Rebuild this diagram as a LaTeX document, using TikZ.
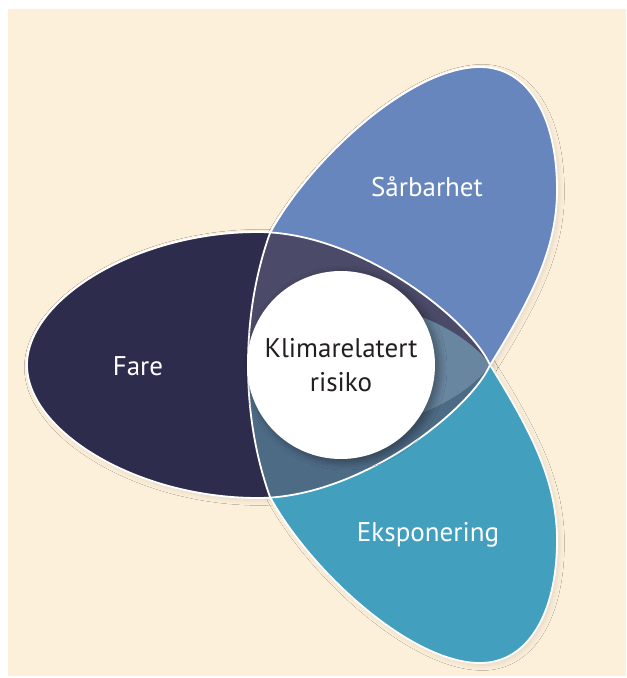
\documentclass[tikz,border=0pt]{standalone}
\usepackage{fontspec}
\setmainfont{PT Sans}
\usetikzlibrary{shadows.blur}
\definecolor{bg}{RGB}{253,240,219}
\definecolor{fare}{RGB}{46,44,76}
\definecolor{sarb}{RGB}{103,134,189}
\definecolor{eksp}{RGB}{66,159,190}
\definecolor{ovA}{RGB}{75,74,104}
\definecolor{ovB}{RGB}{105,134,160}
\definecolor{ovC}{RGB}{78,107,134}
\definecolor{ink}{RGB}{35,31,32}
\tikzset{
  leaf/.style={draw=white,line width=0.9pt},
  soft/.style={blur shadow={shadow xshift=1.2pt,shadow yshift=-1.2pt,shadow blur radius=2.5pt,shadow blur steps=10,shadow opacity=11}},
  lbl/.style={text=white,font=\fontsize{13.5}{16}\selectfont},
  core/.style={circle,fill=white,minimum size=94pt,inner sep=0pt,align=center,text=ink,font=\fontsize{13.5}{17}\selectfont}
}
\begin{document}
\begin{tikzpicture}[x=0.5pt,y=-0.5pt]
\def\fareshape{(490,365) .. controls (470,320) and (360,232) .. (258,232) .. controls (135,232) and (27,300) .. (27,365) .. controls (27,430) and (135,498) .. (258,498) .. controls (360,498) and (470,410) .. (490,365) -- cycle}
\def\sarbshape{(492,362) .. controls (530,300) and (557,250) .. (557,190) .. controls (557,115) and (527,67) .. (480,67) .. controls (410,67) and (310,160) .. (270,233) .. controls (255,275) and (248,320) .. (248,365) .. controls (248,410) and (290,430) .. (350,428) .. controls (420,425) and (475,390) .. (492,362) -- cycle}
\def\ekspshape{(492,368) .. controls (530,430) and (557,480) .. (557,540) .. controls (557,615) and (527,663) .. (480,663) .. controls (410,663) and (310,570) .. (270,497) .. controls (255,455) and (248,410) .. (248,365) .. controls (248,320) and (290,300) .. (350,302) .. controls (420,305) and (475,340) .. (492,368) -- cycle}
\fill[bg] (8,9) rectangle (626,676);
\useasboundingbox (0,0) rectangle (626,678);
% shadows under the three leaves
\path[soft] \sarbshape;
\path[soft] \ekspshape;
\path[soft] \fareshape;
\filldraw[leaf,fill=sarb] \sarbshape;
\filldraw[leaf,fill=eksp] \ekspshape;
\fill[fare] \fareshape;
% overlaps
\begin{scope}
  \clip \fareshape;
  \fill[ovA] \sarbshape;
  \fill[ovC] \ekspshape;
  \clip \sarbshape;
  \fill[ovB] \ekspshape;
\end{scope}
\begin{scope}
  \clip \fareshape;
  \clip (0,0) rectangle (300,365);
  \draw[leaf] \sarbshape;
\end{scope}
\begin{scope}
  \clip \fareshape;
  \clip (0,365) rectangle (300,678);
  \draw[leaf] \ekspshape;
\end{scope}
\draw[leaf] \fareshape;
\node[core,blur shadow={shadow xshift=2pt,shadow yshift=-1.5pt,shadow blur radius=4pt,shadow blur steps=12,shadow opacity=40}] (risiko) at (341,365) {Klimarelatert\\risiko};
\node[lbl] (fare) at (138,366) {Fare};
\node[lbl] (sarbarhet) at (427,187) {Sårbarhet};
\node[lbl] (eksponering) at (428,535) {Eksponering};
\end{tikzpicture}
\end{document}
